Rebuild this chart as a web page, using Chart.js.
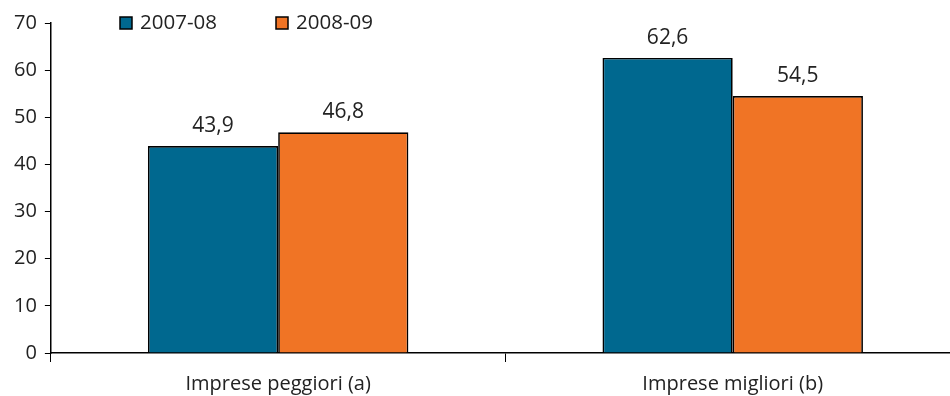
<!DOCTYPE html>
<html>
<head>
<meta charset="utf-8">
<script src="https://cdn.jsdelivr.net/npm/chart.js@4"></script>
<style>
  html, body { margin: 0; padding: 0; background: #fff; overflow: hidden; }
  #wrap { width: 960px; height: 406px; }
</style>
</head>
<body>
<div id="wrap"><canvas id="grafico" width="960" height="406"></canvas></div>
<script>
// dati
const categorie = ['Imprese peggiori (a)', 'Imprese migliori (b)']
const serie1 = [43.9, 62.6]
const serie2 = [46.8, 54.5]
const etichette = ['2007-08', '2008-09']
const yTicks = [0, 10, 20, 30, 40, 50, 60, 70]

const blu = '#00688f'
const arancio = '#f07425'
const font = '"Open Sans", "DejaVu Sans", sans-serif'

// etichette sopra le barre
const valori = {
  id: 'valori',
  afterDatasetsDraw(chart) {
    const ctx = chart.ctx
    ctx.save()
    ctx.font = '21px ' + font
    ctx.fillStyle = '#222'
    ctx.textAlign = 'center'
    ctx.textBaseline = 'middle'
    chart.data.datasets.forEach((ds, i) => {
      chart.getDatasetMeta(i).data.forEach((bar, j) => {
        ctx.fillText(ds.data[j].toFixed(1).replace('.', ','), bar.x, bar.y - 20)
      })
    })
    ctx.restore()
  }
}

// legenda in alto
const legenda = {
  id: 'legenda',
  afterDraw(chart) {
    const ctx = chart.ctx
    const pos = [120, 276]
    ctx.save()
    ctx.font = '20.5px ' + font
    ctx.textBaseline = 'middle'
    chart.data.datasets.forEach((ds, i) => {
      ctx.fillStyle = ds.backgroundColor
      ctx.fillRect(pos[i], 17, 12, 12)
      ctx.strokeStyle = '#000'
      ctx.lineWidth = 1.5
      ctx.strokeRect(pos[i], 17, 12, 12)
      ctx.fillStyle = '#222'
      ctx.fillText(ds.label, pos[i] + 20, 23)
    })
    ctx.restore()
  }
}

new Chart(document.getElementById('grafico'), {
  type: 'bar',
  data: {
    labels: categorie,
    datasets: [
      { label: etichette[0], data: serie1, backgroundColor: blu, borderColor: '#000', borderWidth: 1.7 },
      { label: etichette[1], data: serie2, backgroundColor: arancio, borderColor: '#000', borderWidth: 1.7 }
    ]
  },
  options: {
    responsive: false,
    animation: false,
    layout: { padding: { top: 23, left: 6, right: 0, bottom: 0 } },
    categoryPercentage: 0.573,
    barPercentage: 1,
    plugins: { legend: { display: false }, tooltip: { enabled: false } },
    scales: {
      x: {
        grid: { offset: true, drawOnChartArea: false, tickLength: 9, color: '#000', lineWidth: 1 },
        border: { color: '#000', width: 1.5 },
        ticks: { color: '#222', font: { family: font, size: 20 }, padding: 10 }
      },
      y: {
        min: 0, max: 70,
        afterBuildTicks(axis) { axis.ticks = yTicks.map(v => ({ value: v })) },
        grid: { drawOnChartArea: false, tickLength: 6, color: '#000' },
        border: { color: '#000', width: 1.5 },
        ticks: { color: '#222', font: { family: font, size: 20 }, padding: 8 }
      }
    }
  },
  plugins: [valori, legenda]
})
</script>
</body>
</html>
